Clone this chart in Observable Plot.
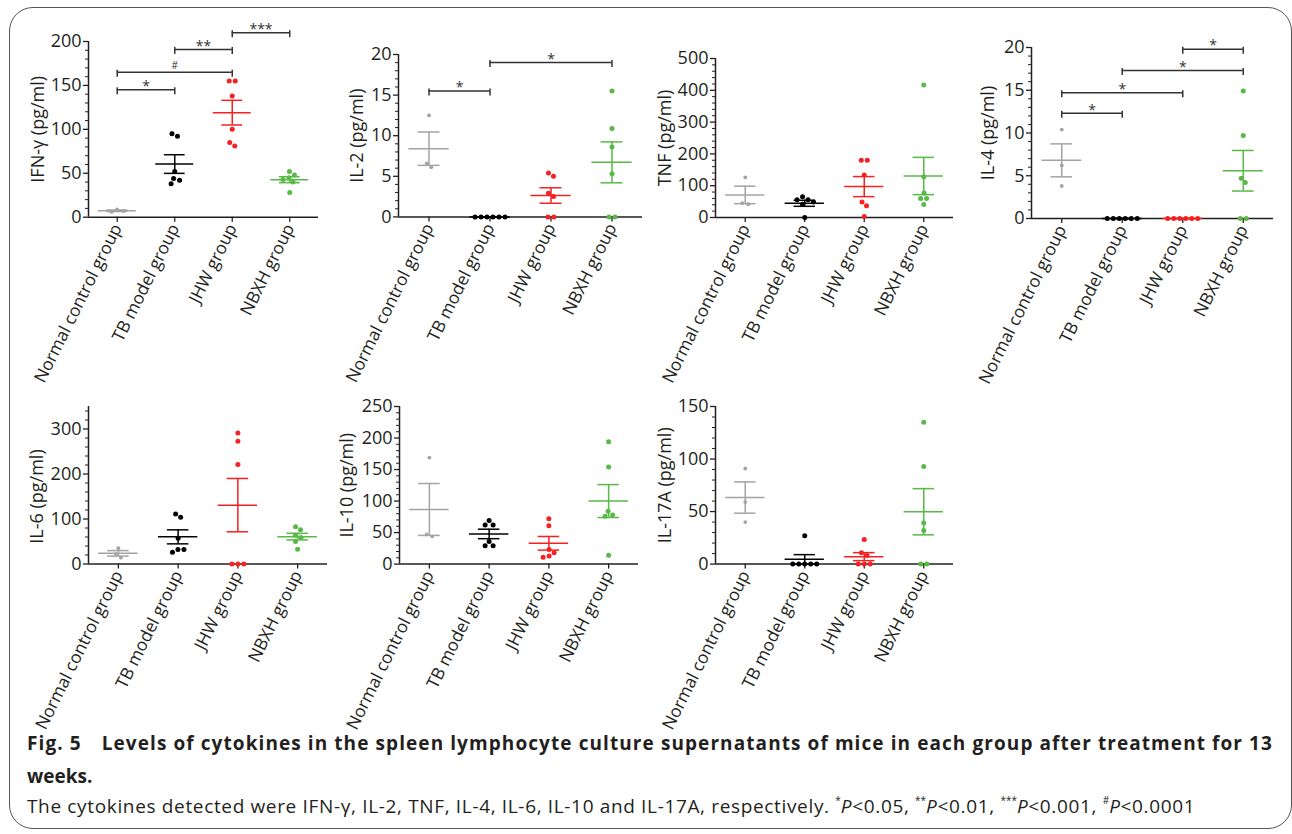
<!DOCTYPE html>
<html><head><meta charset="utf-8">
<script src="https://cdn.jsdelivr.net/npm/d3@7"></script>
<script src="https://cdn.jsdelivr.net/npm/@observablehq/plot@0.6"></script>
<style>
body{margin:0;background:#fff;}
#fig{position:relative;width:1292px;height:834px;overflow:hidden;font-family:"Open Sans",sans-serif;background:#fff;}
#border{position:absolute;left:9px;top:7px;width:1283px;height:822px;box-sizing:border-box;border:1.5px solid #555;border-radius:24px;}
.panel{position:absolute;}
.cap{position:absolute;left:27px;color:#231f20;font-size:19px;line-height:20px;white-space:nowrap;}
#cap1{font-weight:bold;}
#cap2{font-weight:bold;}
sup{font-size:10px;vertical-align:9px;line-height:0;letter-spacing:0;}
</style></head><body>
<div id="fig"><div id="border"></div>
<div class="cap" id="cap1" style="top:733px"><span id="c1">Fig. 5<span style="display:inline-block;width:14px"></span> Levels of cytokines in the spleen lymphocyte culture supernatants of mice in each group after treatment for 13</span></div>
<div class="cap" id="cap2" style="top:766px">weeks.</div>
<div class="cap" id="cap3" style="top:796px"><span id="c3">The cytokines detected were IFN-γ, IL-2, TNF, IL-4, IL-6, IL-10 and IL-17A, respectively. <sup>*</sup><i>P</i>&lt;0.05, <sup>**</sup><i>P</i>&lt;0.01, <sup>***</sup><i>P</i>&lt;0.001, <sup>#</sup><i>P</i>&lt;0.0001</span></div>
</div>
<script>
// ---- categories ----
const groups = ["Normal control group", "TB model group", "JHW group", "NBXH group"];
const groupColors = ["#a3a3a3", "#000000", "#f42222", "#58b947"];

// ---- series values (pg/ml), one array per group ----
const ifnG  = [[9, 7, 6], [95, 92, 52, 44, 42, 38], [155, 155, 138, 100, 85, 81], [52, 48, 45, 43, 40, 28]];
const il2   = [[12.5, 6.6, 6.1], [0, 0, 0, 0, 0, 0], [5.4, 5.0, 2.9, 2.5, 0, 0], [15.5, 10.9, 8.6, 5.3, 0, 0]];
const tnf   = [[126, 45, 42], [65, 56, 56, 49, 42, 0], [180, 180, 134, 49, 37, 3], [417, 128, 77, 60, 60, 41]];
const il4   = [[10.4, 6.2, 3.8], [0, 0, 0, 0, 0, 0], [0, 0, 0, 0, 0, 0], [14.9, 9.7, 4.7, 4.2, 0, 0]];
const il6   = [[35, 22, 14], [111, 104, 57, 32, 32, 26], [291, 273, 221, 0, 0, 0], [83, 76, 64, 59, 50, 33]];
const il10  = [[169, 47, 44], [69, 62, 62, 36, 29, 29], [72, 61, 23, 18, 13, 11], [194, 154, 84, 78, 76, 14]];
const il17a = [[91, 59, 40], [27, 0, 0, 0, 0, 0], [23.5, 10.8, 8.2, 0, 0, 0], [135, 93, 39, 32, 0, 0]];

// ---- significance brackets: [from group, to group, level, label] ----
const ifnSig = [[0, 1, 145, "*"], [0, 2, 165, "#"], [1, 2, 191, "**"], [2, 3, 210, "***"]];
const il2Sig = [[0, 1, 15.5, "*"], [1, 3, 19, "*"]];
const il4Sig = [[0, 1, 12.3, "*"], [0, 2, 14.7, "*"], [1, 3, 17.3, "*"], [2, 3, 19.8, "*"]];

// ---- panel settings ----
const panels = [
  {label: "IFN-γ (pg/ml)", data: ifnG, sig: ifnSig, ymax: 200, major: 50, minor: 10, ax: 88, y0: 216.7, yTop: 41, xEnd: 318, ldx: -50},
  {label: "IL-2 (pg/ml)", data: il2, sig: il2Sig, ymax: 20, major: 5, minor: 1, ax: 398, y0: 216.7, yTop: 54.3, xEnd: 642, ldx: -41},
  {label: "TNF (pg/ml)", data: tnf, sig: [], ymax: 500, major: 100, minor: 20, ax: 715, y0: 216.7, yTop: 57.7, xEnd: 953, ldx: -50},
  {label: "IL-4 (pg/ml)", data: il4, sig: il4Sig, ymax: 20, major: 5, minor: 1, ax: 1031, y0: 217.7, yTop: 46.7, xEnd: 1273, ldx: -43},
  {label: "IL-6 (pg/ml)", data: il6, sig: [], ymax: 350, tickMax: 300, major: 100, minor: 20, ax: 88, y0: 563.3, yTop: 405.8, xEnd: 327, ldx: -51},
  {label: "IL-10 (pg/ml)", data: il10, sig: [], ymax: 250, major: 50, minor: 10, ax: 399, y0: 563.3, yTop: 405.7, xEnd: 638, ldx: -52},
  {label: "IL-17A (pg/ml)", data: il17a, sig: [], ymax: 150, major: 50, minor: 10, ax: 715, y0: 563.3, yTop: 405.7, xEnd: 953, ldx: -50}
];

const ink = "#231f20";
const fig = document.getElementById("fig");

// fit caption lines to the widths they take in the figure
function fitLine(id, target) {
  const el = document.getElementById(id);
  const n = el.textContent.length;
  const w = el.getBoundingClientRect().width;
  el.style.letterSpacing = ((target - w) / n) + "px";
}
fitLine("c1", 1246);
fitLine("c3", 1173);

// deterministic beeswarm (pixel space), clusters centred like GraphPad
function swarm(values, k, D) {
  const pts = values.map((v, i) => ({v, py: v * k, x: 0, i}));
  const order = pts.slice().sort((a, b) => b.v - a.v);
  const placed = [];
  for (const p of order) {
    for (let s = 0; s < 200; s++) {
      const cand = s === 0 ? 0 : (s % 2 ? 1 : -1) * Math.ceil(s / 2) * 0.5;
      if (placed.every(q => Math.hypot(q.x - cand, q.py - p.py) >= D)) { p.x = cand; break; }
    }
    placed.push(p);
  }
  const comp = pts.map((_, i) => i);
  const find = i => comp[i] === i ? i : (comp[i] = find(comp[i]));
  for (let a = 0; a < pts.length; a++) for (let b = a + 1; b < pts.length; b++)
    if (Math.abs(pts[a].py - pts[b].py) < D) comp[find(a)] = find(b);
  const groupsC = d3.group(pts, p => find(p.i));
  for (const [, arr] of groupsC) {
    const m = d3.mean(arr, p => p.x);
    arr.forEach(p => p.x -= m);
  }
  return pts;
}

for (const p of panels) {
  const H = p.y0 - p.yTop, W = p.xEnd - p.ax;
  const mL = 80, mT = 45, mR = 12, mB = 185;
  const ky = H / p.ymax;
  const kx = W / 4;
  const uy = 1 / ky;
  const tickMax = p.tickMax ?? p.ymax;
  const majors = d3.range(0, tickMax + 1e-9, p.major);
  const minors = d3.range(0, p.ymax + 1e-9, p.minor).filter(v => Math.abs(v / p.major - Math.round(v / p.major)) > 1e-6);

  const rows = [];
  p.data.forEach((vals, g) => {
    swarm(vals, ky, 5.8).forEach(pt => rows.push({g, v: pt.v, off: pt.x}));
  });
  const stats = p.data.map((vals, g) => {
    const mean = d3.mean(vals);
    const sem = d3.deviation(vals) / Math.sqrt(vals.length);
    return {g, mean, lo: mean - sem, hi: mean + sem};
  });

  const marks = [
    Plot.ruleX([-0.5], {y1: 0, y2: p.ymax, stroke: ink, strokeWidth: 1.5}),
    Plot.ruleY([0], {x1: -0.5, x2: 3.5, stroke: ink, strokeWidth: 1.5}),
    Plot.axisY({ticks: majors, tickSize: 5, tickPadding: 2, fontSize: 18, stroke: ink, fill: ink, strokeWidth: 1.3, label: null}),
    Plot.axisY({ticks: minors, tickSize: 3, tickFormat: () => "", stroke: ink, strokeWidth: 1, label: null}),
    Plot.axisX({ticks: [0, 1, 2, 3], tickFormat: i => groups[i], tickRotate: -63.5, tickSize: 5, tickPadding: 3, fontSize: 17.3, stroke: ink, fill: ink, strokeWidth: 1.3, label: null}),
    Plot.text([p.label], {x: () => -0.5, y: () => tickMax / 2, text: d => d, rotate: -90, dx: p.ldx, fontSize: 18, fill: ink})
  ];
  groupColors.forEach((c, g) => {
    marks.push(Plot.dot(rows.filter(d => d.g === g), {x: d => d.g + d.off / kx, y: "v", r: g === 0 ? 1.9 : 2.5, fill: c, stroke: null}));
  });
  groupColors.forEach((c, g) => {
    const s = stats.filter(d => d.g === g);
    marks.push(
      Plot.ruleY(s, {y: "mean", x1: d => d.g - 0.33, x2: d => d.g + 0.33, stroke: c, strokeWidth: 1.5}),
      Plot.ruleY(s, {y: "lo", x1: d => d.g - 0.18, x2: d => d.g + 0.18, stroke: c, strokeWidth: 1.5}),
      Plot.ruleY(s, {y: "hi", x1: d => d.g - 0.18, x2: d => d.g + 0.18, stroke: c, strokeWidth: 1.5}),
      Plot.ruleX(s, {x: "g", y1: "lo", y2: "hi", stroke: c, strokeWidth: 1.5})
    );
  });
  if (p.sig.length) {
    const sig = p.sig.map(([a, b, v, t]) => ({a, b, v, t}));
    marks.push(
      Plot.ruleY(sig, {y: "v", x1: "a", x2: "b", stroke: "#333", strokeWidth: 1.5}),
      Plot.ruleX(sig, {x: "a", y1: d => d.v + 2 * uy, y2: d => d.v - 5 * uy, stroke: "#333", strokeWidth: 1.5}),
      Plot.ruleX(sig, {x: "b", y1: d => d.v + 2 * uy, y2: d => d.v - 5 * uy, stroke: "#333", strokeWidth: 1.5}),
      Plot.text(sig.filter(d => d.t !== "#"), {x: d => (d.a + d.b) / 2, y: "v", text: "t", dy: -3.3, fontSize: 14, fill: "#333"}),
      Plot.text(sig.filter(d => d.t === "#"), {x: d => (d.a + d.b) / 2, y: "v", text: "t", dy: -6.5, fontSize: 10, fill: "#333"})
    );
  }

  const svg = Plot.plot({
    width: W + mL + mR, height: H + mT + mB,
    marginLeft: mL, marginRight: mR, marginTop: mT, marginBottom: mB,
    x: {domain: [-0.5, 3.5]},
    y: {domain: [0, p.ymax]},
    style: {fontFamily: "Open Sans, sans-serif", overflow: "visible", background: "transparent", color: ink},
    marks
  });
  const wrap = document.createElement("div");
  wrap.className = "panel";
  wrap.style.left = (p.ax - mL) + "px";
  wrap.style.top = (p.yTop - mT) + "px";
  wrap.appendChild(svg);
  fig.appendChild(wrap);
}
</script>
</body></html>
